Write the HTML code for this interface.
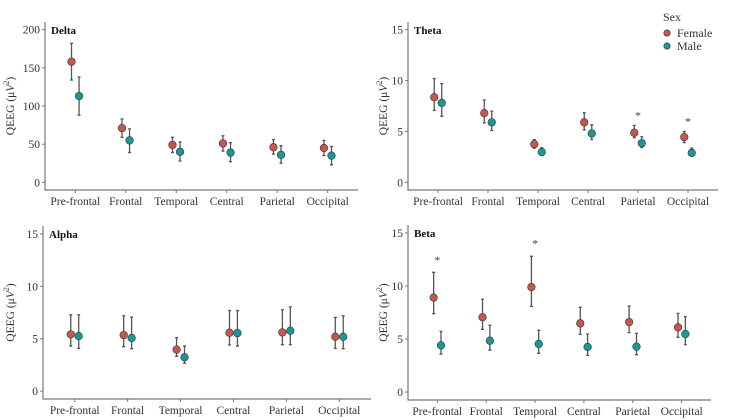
<!DOCTYPE html>
<html><head><meta charset="utf-8"><style>
html,body{margin:0;padding:0;background:#fff;}
svg{display:block;font-family:"Liberation Serif",serif;}
</style></head><body>
<svg id="c" width="747" height="420" viewBox="0 0 747 420"></svg>
<script>
const categories=["Pre-frontal","Frontal","Temporal","Central","Parietal","Occipital"];
const deltaF=[158,71,49,51,46,45];
const deltaFLo=[134,59,39,41,37,35];
const deltaFHi=[182,83,59,61,56,55];
const deltaM=[113,55,40,39,36,35];
const deltaMLo=[88,39,28,27,25,23];
const deltaMHi=[138,70,53,52,48,47];
const thetaF=[8.36,6.8,3.75,5.9,4.87,4.44];
const thetaFLo=[7.06,5.85,3.36,5.16,4.38,3.9];
const thetaFHi=[10.2,8.1,4.2,6.83,5.6,5.0];
const thetaM=[7.8,5.9,2.97,4.8,3.85,2.9];
const thetaMLo=[6.5,5.1,2.65,4.2,3.43,2.58];
const thetaMHi=[9.7,7.0,3.4,5.65,4.48,3.37];
const thetaStars=[null,null,null,null,6.67,6.08];
const alphaF=[5.41,5.35,3.96,5.57,5.6,5.19];
const alphaFLo=[4.3,4.24,3.32,4.4,4.43,4.08];
const alphaFHi=[7.28,7.19,5.1,7.69,7.76,7.03];
const alphaM=[5.25,5.07,3.23,5.54,5.76,5.19];
const alphaMLo=[4.08,4.05,2.66,4.3,4.43,4.05];
const alphaMHi=[7.28,7.06,4.3,7.69,8.04,7.19];
const betaF=[8.9,7.05,9.9,6.48,6.6,6.1];
const betaFLo=[7.39,5.91,8.08,5.44,5.6,5.16];
const betaFHi=[11.29,8.75,12.8,7.99,8.11,7.42];
const betaM=[4.4,4.84,4.53,4.25,4.28,5.47];
const betaMLo=[3.58,3.96,3.65,3.46,3.52,4.46];
const betaMHi=[5.72,6.3,5.82,5.47,5.53,7.1];
const betaStars=[12.55,null,14.1,null,null,null];
const deltaTicks=[0,50,100,150,200];
const smallTicks=[0,5,10,15];

const svg=document.getElementById('c');
const NS='http://www.w3.org/2000/svg';
function el(tag,attrs,parent){const e=document.createElementNS(NS,tag);for(const k in attrs)e.setAttribute(k,attrs[k]);(parent||svg).appendChild(e);return e;}
const FEM='#c5574e',MAL='#1b9797';

function panel(cfg){
  const g=el('g',{});
  
  
  const xs=i=>cfg.x0+(cfg.x1-cfg.x0)*(i+1-0.4)/6.2;
  const ys=v=>cfg.yb-(v-cfg.ymin)/(cfg.ymax-cfg.ymin)*(cfg.yb-cfg.yt);
  const ax=el('path',{d:`M${cfg.x0} ${cfg.yt}V${cfg.yb}H${cfg.x1}`,stroke:'#777',fill:'none','stroke-width':1.2},g);
  
  
  cfg.ticks.forEach(t=>{
    el('line',{x1:cfg.x0-3,x2:cfg.x0,y1:ys(t),y2:ys(t),stroke:'#777'},g);
    const tx=el('text',{x:cfg.x0-5,y:ys(t)+4,'text-anchor':'end','font-size':11.5,fill:'#333'},g);
    tx.textContent=t;
    
    
  });
  categories.forEach((c,i)=>{
    el('line',{x1:xs(i),x2:xs(i),y1:cfg.yb,y2:cfg.yb+3,stroke:'#777'},g);
    const tx=el('text',{x:xs(i),y:cfg.yb+15,'text-anchor':'middle','font-size':11.5,fill:'#333'},g);
    tx.textContent=c;
    
    
  });
  const yt=el('text',{transform:`translate(${cfg.tx},${(cfg.yt+cfg.yb)/2}) rotate(-90)`,'text-anchor':'middle','font-size':11.5,fill:'#333'},g);
  yt.innerHTML='QEEG (μ<tspan font-style="italic">V</tspan><tspan dy="-5" font-size="8">2</tspan><tspan dy="5">)</tspan>';
  
  
  const ti=el('text',{x:cfg.x0+6,y:cfg.yt+12,'font-size':11,'font-weight':'bold',fill:'#111'},g);
  ti.textContent=cfg.title;
  
  
  const series=[[cfg.f,cfg.flo,cfg.fhi,FEM,-0.075,'female'],[cfg.m,cfg.mlo,cfg.mhi,MAL,0.075,'male']];
  series.forEach(([v,lo,hi,col,d,nm])=>{
    v.forEach((val,i)=>{
      const x=xs(i+d);
      const eb=el('path',{d:`M${x} ${ys(lo[i])}V${ys(hi[i])}M${x-1.5} ${ys(lo[i])}h3M${x-1.5} ${ys(hi[i])}h3`,stroke:'#555','stroke-width':1.3,fill:'none'},g);
      
      
      const p=el('circle',{cx:x,cy:ys(val),r:3.8,fill:col,stroke:'#333','stroke-width':0.6},g);
      
      
    });
  });
  (cfg.stars||[]).forEach((s,i)=>{
    if(s==null)return;
    const st=el('text',{x:xs(i),y:ys(s)+5,'text-anchor':'middle','font-size':12,fill:'#444'},g);
    st.textContent='*';
    
    
  });
}
panel({name:'delta',title:'Delta',x0:45,x1:358,yt:22,yb:190,ymin:-10,ymax:210,ticks:deltaTicks,tx:14,f:deltaF,flo:deltaFLo,fhi:deltaFHi,m:deltaM,mlo:deltaMLo,mhi:deltaMHi});
panel({name:'theta',title:'Theta',x0:408,x1:718,yt:22,yb:190,ymin:-0.75,ymax:15.75,ticks:smallTicks,tx:387,f:thetaF,flo:thetaFLo,fhi:thetaFHi,m:thetaM,mlo:thetaMLo,mhi:thetaMHi,stars:thetaStars});
panel({name:'alpha',title:'Alpha',x0:43,x1:371,yt:226,yb:399,ymin:-0.75,ymax:15.75,ticks:smallTicks,tx:14,f:alphaF,flo:alphaFLo,fhi:alphaFHi,m:alphaM,mlo:alphaMLo,mhi:alphaMHi});
panel({name:'beta',title:'Beta',x0:408,x1:711,yt:225,yb:400,ymin:-0.75,ymax:15.75,ticks:smallTicks,tx:387,f:betaF,flo:betaFLo,fhi:betaFHi,m:betaM,mlo:betaMLo,mhi:betaMHi,stars:betaStars});

const lg=el('g',{});


const lt=el('text',{x:663,y:21,'font-size':12,fill:'#333'},lg);lt.textContent='Sex';
[[ 'Female',FEM,33],['Male',MAL,46]].forEach(([n,c,y])=>{
  const e=el('g',{},lg);
  
  
  el('circle',{cx:667,cy:y,r:3.2,fill:c,stroke:'#333','stroke-width':0.6},e);
  const t=el('text',{x:677,y:y+4,'font-size':12,fill:'#333'},e);t.textContent=n;
});
</script>
</body></html>
